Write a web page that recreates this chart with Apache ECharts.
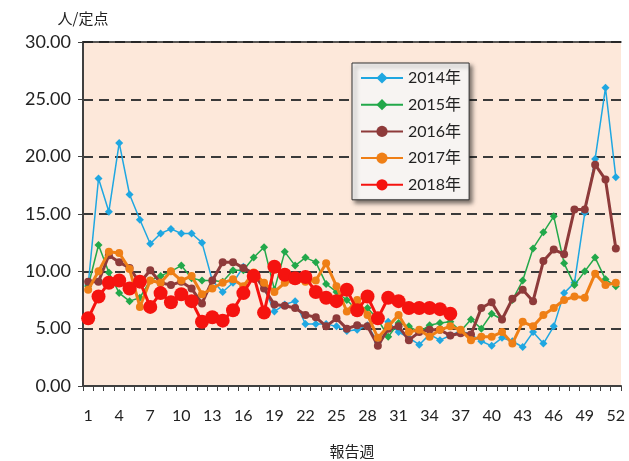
<!DOCTYPE html>
<html><head><meta charset="utf-8">
<script src="https://cdn.jsdelivr.net/npm/echarts@6/dist/echarts.min.js"></script>
<style>html,body{margin:0;padding:0;background:#fff}#c{width:629px;height:461px}</style>
</head><body><div id="c"></div>
<script>
const weeks = ['1','2','3','4','5','6','7','8','9','10','11','12','13','14','15','16','17','18','19','20','21','22','23','24','25','26','27','28','29','30','31','32','33','34','35','36','37','38','39','40','41','42','43','44','45','46','47','48','49','50','51','52'];
const seriesNames = ['2014年','2015年','2016年','2017年','2018年'];
const s2014 = [8.8,18.1,15.2,21.2,16.7,14.5,12.4,13.3,13.7,13.3,13.3,12.5,9.2,8.2,9.0,10.4,9.8,8.5,6.5,7.1,7.4,5.4,5.4,5.4,5.2,4.8,4.9,5.3,3.8,5.6,4.7,4.2,3.6,4.5,4.0,4.4,4.8,4.5,3.9,3.5,4.2,3.9,3.4,4.7,3.7,5.2,8.1,9.0,15.1,19.8,26.0,18.2];
const s2015 = [8.7,12.3,9.9,8.1,7.4,7.7,9.2,9.6,10.0,10.5,9.4,9.2,9.2,9.1,10.1,10.1,11.2,12.1,8.4,11.7,10.5,11.2,10.8,8.9,8.2,7.5,6.6,6.8,5.8,4.3,5.5,5.2,4.7,5.3,5.5,5.6,4.8,5.8,5.0,6.3,5.8,7.5,9.2,12.0,13.4,14.8,10.7,8.8,10.0,11.2,9.3,8.7];
const s2016 = [9.1,9.1,11.4,10.8,10.3,9.0,10.1,9.0,8.8,9.1,8.5,7.2,9.2,10.8,10.8,10.3,9.8,8.5,7.1,7.0,6.8,6.2,6.0,5.2,5.9,5.0,5.3,5.2,3.5,5.0,5.2,4.0,4.7,4.9,4.9,4.4,4.6,4.5,6.8,7.3,5.8,7.6,8.4,7.4,10.9,11.9,11.5,15.4,15.4,19.3,18.0,12.0];
const s2017 = [8.4,10.0,11.7,11.6,10.2,6.9,9.2,9.0,10.0,9.2,9.6,8.0,8.5,9.0,9.3,8.7,9.9,9.0,8.2,9.0,9.2,9.1,9.2,10.7,8.7,6.5,7.5,6.2,4.2,5.2,6.2,4.7,4.9,4.3,4.9,5.2,4.9,4.0,4.3,4.3,4.7,3.7,5.6,5.2,6.2,6.8,7.5,7.8,7.7,9.8,8.8,9.0];
const s2018 = [5.9,7.8,9.0,9.2,8.5,9.1,6.9,8.1,7.3,8.0,7.4,5.6,6.0,5.7,6.6,8.1,9.6,6.4,10.4,9.7,9.4,9.5,8.2,7.7,7.4,8.4,6.6,7.8,5.9,7.7,7.4,6.8,6.8,6.8,6.7,6.3,null,null,null,null,null,null,null,null,null,null,null,null,null,null,null,null];

const FONT = 'Lato, "Noto Sans CJK JP", sans-serif';
const JP = '"Noto Sans CJK JP", sans-serif';
const colors = ['#1fa7e1','#22a84a','#8e3a3a','#ef7f16','#f5130f'];
const styles = [
  {symbol:'diamond', size:8, width:1.5},
  {symbol:'diamond', size:8, width:1.5},
  {symbol:'circle', size:8, width:3},
  {symbol:'circle', size:8, width:3},
  {symbol:'circle', size:14, width:3}
];
const dataSets = [s2014, s2015, s2016, s2017, s2018];

const chart = echarts.init(document.getElementById('c'));
chart.setOption({
  animation: false,
  backgroundColor: '#ffffff',
  grid: {left: 83, right: 8, top: 42, bottom: 75, show: true, backgroundColor: '#fde8da', borderWidth: 0, containLabel: false, outerBoundsMode: 'none'},
  legend: {
    orient: 'vertical', left: 352, top: 63,
    data: seriesNames,
    itemWidth: 42, itemHeight: 14, itemGap: 10.7,
    padding: [7, 8, 7, 8],
    backgroundColor: '#f7f4f2', borderColor: '#333', borderWidth: 1,
    shadowBlur: 4, shadowColor: 'rgba(0,0,0,0.5)', shadowOffsetX: 3, shadowOffsetY: 3,
    textStyle: {fontFamily: FONT, fontSize: 16, color: '#222'}
  },
  xAxis: [{
    type: 'category', data: weeks, boundaryGap: true,
    name: '報告週', nameLocation: 'middle', nameGap: 58,
    nameTextStyle: {fontFamily: JP, fontSize: 15, color: '#222'},
    axisLine: {lineStyle: {color: '#404040', width: 2}},
    axisTick: {show: true, interval: 0, length: 5, lineStyle: {color: '#404040', width: 1}},
    axisLabel: {interval: 2, margin: 22, fontFamily: FONT, fontSize: 16, color: '#222'}
  }, {
    type: 'category', data: weeks, position: 'top',
    axisLine: {show: true, lineStyle: {color: '#222', width: 1.5}},
    axisTick: {show: false}, axisLabel: {show: false}
  }],
  yAxis: {
    type: 'value', min: 0, max: 30, interval: 5,
    name: '人/定点', nameLocation: 'end', nameGap: 16,
    nameTextStyle: {fontFamily: JP, fontSize: 15, color: '#222', align: 'center', padding: [0, 0, 0, 0]},
    axisLine: {show: true, lineStyle: {color: '#404040', width: 2}},
    axisTick: {show: true, length: 5, lineStyle: {color: '#404040', width: 1}},
    axisLabel: {margin: 12, fontFamily: FONT, fontSize: 18, color: '#222', formatter: v => v.toFixed(2)},
    splitLine: {show: true, lineStyle: {type: [10, 6], color: '#3a3a3a', width: 2}}
  },
  series: seriesNames.map((n, i) => ({
    name: n, type: 'line', data: dataSets[i],
    symbol: styles[i].symbol, symbolSize: styles[i].size, showAllSymbol: true,
    connectNulls: false,
    itemStyle: {color: colors[i]},
    lineStyle: {color: colors[i], width: styles[i].width},
    z: 2 + i
  }))
});
</script></body></html>
